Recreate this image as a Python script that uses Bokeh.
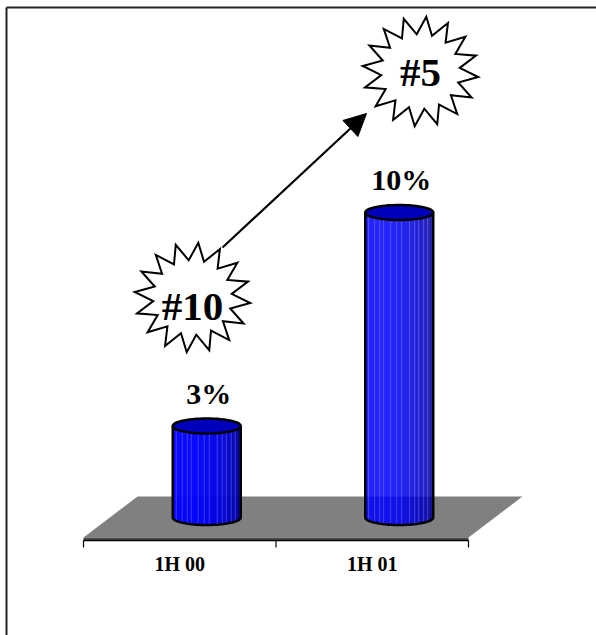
import math

from bokeh.core.properties import value
from bokeh.embed import file_html
from bokeh.models import Arrow, NormalHead, Range1d
from bokeh.plotting import figure
from bokeh.resources import INLINE

# ---- data -------------------------------------------------------------
categories = ["1H 00", "1H 01"]
growth_pct = [3, 10]
value_labels = ["3%", "10%"]
rank_labels = ["#10", "#5"]

# ---- layout constants (screen pixels, y measured downward) -------------
W, H = 596, 635
BASE_PX = 517.0          # pixel row of the 0 % level (cylinder bottoms)
PX_PER_PCT = 30.5        # vertical scale
AXIS_LEFT, AXIS_RIGHT = 83.0, 468.0
AXIS_Y = 540.0
DEPTH_DX, DEPTH_DY = 54.0, 41.0   # oblique floor depth
CYL_A, CYL_B = 34.0, 7.5          # cylinder ellipse half axes
SERIF = value("Liberation Serif")


def ydat(px):
    """Convert a pixel row into the figure's percent scale."""
    return (BASE_PX - px) / PX_PER_PCT


p = figure(width=W, height=H, output_backend="svg", toolbar_location=None,
           x_range=Range1d(0, W), y_range=Range1d(ydat(H), ydat(0)),
           min_border=0, outline_line_color=None)
p.axis.visible = False
p.grid.visible = False
p.background_fill_color = "white"
p.border_fill_color = "white"

# ---- floor ------------------------------------------------------------
floor_front = AXIS_Y - 3
fx = [AXIS_LEFT, AXIS_LEFT + DEPTH_DX, AXIS_RIGHT + DEPTH_DX, AXIS_RIGHT]
fy = [floor_front, floor_front - DEPTH_DY, floor_front - DEPTH_DY, floor_front]
p.patch(fx, [ydat(v) for v in fy], fill_color="#808080", line_color=None)
p.patch([AXIS_LEFT, AXIS_RIGHT, AXIS_RIGHT, AXIS_LEFT],
        [ydat(floor_front), ydat(floor_front), ydat(AXIS_Y), ydat(AXIS_Y)],
        fill_color="#4d4d4d", line_color=None)

# ---- category axis ----------------------------------------------------
p.line([AXIS_LEFT, AXIS_RIGHT], [ydat(AXIS_Y), ydat(AXIS_Y)],
       line_color="black", line_width=1.5)
n = len(categories)
step = (AXIS_RIGHT - AXIS_LEFT) / n
tick_xs = [AXIS_LEFT + i * step for i in range(n + 1)]
p.segment(x0=tick_xs, y0=[ydat(AXIS_Y)] * len(tick_xs),
          x1=tick_xs, y1=[ydat(AXIS_Y + 7)] * len(tick_xs),
          line_color="black", line_width=1.2)
cat_x = [AXIS_LEFT + (i + 0.5) * step for i in range(n)]
p.text(x=cat_x, y=[ydat(563)] * n, text=categories, text_font=SERIF,
       text_font_style="bold", text_font_size="20px", text_align="center",
       text_baseline="middle", text_color="black")


# ---- cylinders --------------------------------------------------------
STRIPES = {3, 9, 14, 18, 25, 31, 36, 44, 49, 53, 58, 62}


def shade(i, count):
    """Blue shade of a 1px column across the cylinder body."""
    t = (i + 0.5) / count
    theta = math.acos(max(-1.0, min(1.0, 1 - 2 * t)))  # 0 left .. pi right
    light = 0.70 + 0.32 * math.cos(theta - 0.9)
    b = max(0, min(255, int(255 * min(light, 1.0))))
    rg = 0
    if i in STRIPES:
        b = min(255, b + 40)
        rg = 55
    return "#%02x%02x%02x" % (rg, rg, b)


def ellipse_pts(cx, cy_px, t0, t1, steps=60):
    xs, ys = [], []
    for k in range(steps + 1):
        t = t0 + (t1 - t0) * k / steps
        xs.append(cx + CYL_A * math.cos(t))
        ys.append(ydat(cy_px + CYL_B * math.sin(t)))
    return xs, ys


def base_row(cx, x):
    u = max(-1.0, min(1.0, (x - cx) / CYL_A))
    return BASE_PX + CYL_B * math.sqrt(1 - u * u)


cyl_x = [c + DEPTH_DX / 2 for c in cat_x]
for cx, v in zip(cyl_x, growth_pct):
    top_px = BASE_PX - v * PX_PER_PCT
    count = int(2 * CYL_A)
    sx, sy, sc = [], [], []
    for i in range(count):
        x0 = cx - CYL_A + i
        x1 = min(x0 + 1.2, cx + CYL_A)
        sx.append([x0, x1, x1, x0])
        sy.append([ydat(top_px), ydat(top_px),
                   ydat(base_row(cx, x1)), ydat(base_row(cx, x0))])
        sc.append(shade(i, count))
    p.patches(sx, sy, fill_color=sc, line_color=None)

    # outline: sides and front half of the base
    bx, by = ellipse_pts(cx, BASE_PX, math.pi, 0)
    ox = [cx - CYL_A] + bx + [cx + CYL_A]
    oy = [ydat(top_px)] + by + [ydat(top_px)]
    p.line(ox, oy, line_color="black", line_width=2.5)

    # top cap
    tx, ty = ellipse_pts(cx, top_px, 0, 2 * math.pi)
    p.patch(tx, ty, fill_color="#0000bc", line_color="black", line_width=2.5)

# value labels above the cylinders
lab_y = [ydat(BASE_PX - v * PX_PER_PCT - 33) for v in growth_pct]
p.text(x=[c + 2 for c in cyl_x], y=lab_y, text=value_labels, text_font=SERIF,
       text_font_style="bold", text_font_size="30px", text_align="center",
       text_baseline="middle", text_color="black")


# ---- rank starbursts --------------------------------------------------
def star(cx, cy_px, rx, ry, points=16, inner=0.68, rot=0.1):
    xs, ys = [], []
    for k in range(2 * points):
        ang = rot + math.pi * k / points
        r = 1.0 if k % 2 == 0 else inner
        xs.append(cx + rx * r * math.sin(ang))
        ys.append(ydat(cy_px - ry * r * math.cos(ang)))
    return xs, ys


star_pos = [(192.0, 297.0), (420.0, 71.0)]
text_rows = [305.0, 71.0]
for (sx0, sy0) in star_pos:
    xs, ys = star(sx0, sy0, 58, 55)
    p.patch(xs, ys, fill_color="white", line_color="black", line_width=2,
            line_join="miter")
p.text(x=[s[0] for s in star_pos], y=[ydat(r) for r in text_rows],
       text=rank_labels, text_font=SERIF, text_font_style="bold",
       text_font_size="41px", text_align="center", text_baseline="middle",
       text_color="black")

# arrow between the two ranks
p.add_layout(Arrow(x_start=222, y_start=ydat(247), x_end=366, y_end=ydat(113),
                   line_color="black", line_width=2.2,
                   end=NormalHead(size=22, fill_color="black", line_color="black")))

# ---- frame lines ------------------------------------------------------
p.line([6, W], [ydat(7), ydat(7)], line_color="#222222", line_width=2)
p.line([6, 6], [ydat(7), ydat(H)], line_color="#222222", line_width=2)

open("out.html", "w").write(file_html(p, INLINE))
